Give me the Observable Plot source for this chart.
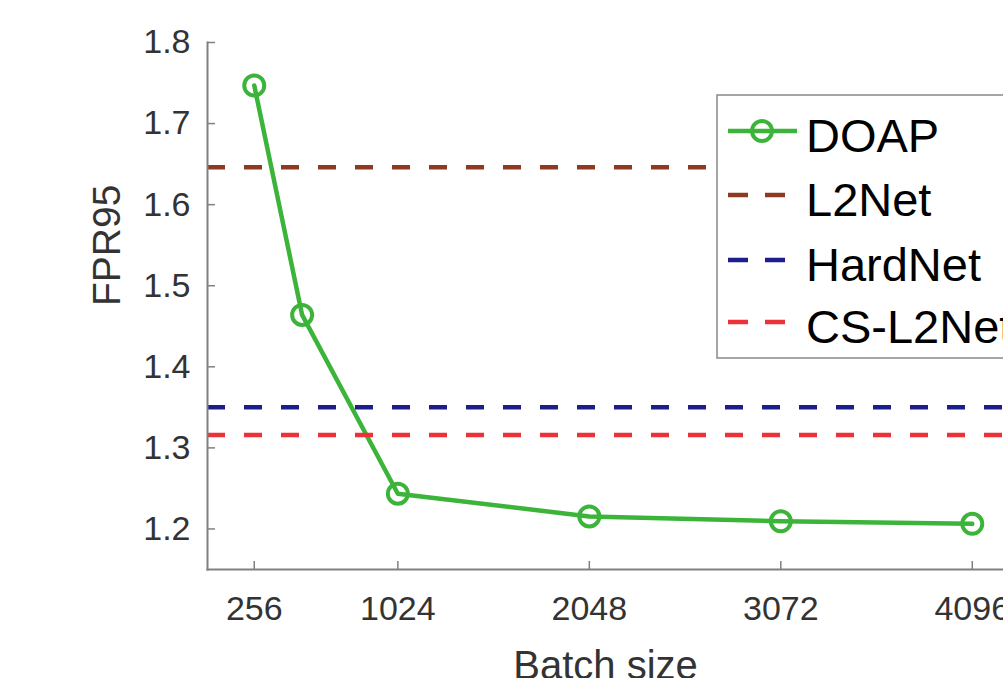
<!DOCTYPE html>
<html>
<head>
<meta charset="utf-8">
<script src="https://cdn.jsdelivr.net/npm/d3@7"></script>
<script src="https://cdn.jsdelivr.net/npm/@observablehq/plot@0.6"></script>
<style>
  html, body { margin: 0; padding: 0; background: #fff; overflow: hidden; }
  #wrap { position: relative; width: 1003px; height: 678px; overflow: hidden; }
  #legend { position: absolute; left: 0; top: 0; pointer-events: none; }
</style>
</head>
<body>
<div id="wrap"></div>
<script>
// ---- data ----
const batchSizes = [256, 512, 1024, 2048, 3072, 4096];
const doapFPR = [1.747, 1.464, 1.2435, 1.2155, 1.2095, 1.2063];
const baselineNames = ["L2Net", "HardNet", "CS-L2Net"];
const baselineFPR = [1.646, 1.350, 1.316];
const xTicks = [256, 1024, 2048, 3072, 4096];
const yTicks = [1.2, 1.3, 1.4, 1.5, 1.6, 1.7, 1.8];
const seriesNames = ["DOAP", "L2Net", "HardNet", "CS-L2Net"];
const seriesColors = ["#3cb43a", "#8e3a22", "#1d1d8c", "#ec3238"];

const doap = batchSizes.map((b, i) => ({batch: b, fpr: doapFPR[i]}));
const baselines = baselineNames.map((n, i) => ({name: n, fpr: baselineFPR[i], color: seriesColors[i + 1]}));

const font = "'Liberation Sans', Arial, Helvetica, sans-serif";
const axisGray = "#808080";

const chart = Plot.plot({
  width: 1003,
  height: 678,
  marginLeft: 207,
  marginRight: 0,
  marginTop: 42,
  marginBottom: 109,
  style: {fontFamily: font, background: "#fff"},
  x: {domain: [6, 4263]},
  y: {domain: [1.15, 1.8]},
  marks: [
    Plot.line(doap, {x: "batch", y: "fpr", stroke: seriesColors[0], strokeWidth: 4.5, strokeLinejoin: "round"}),
    Plot.dot(doap, {x: "batch", y: "fpr", r: 10, stroke: seriesColors[0], strokeWidth: 4, fill: "none"}),
    Plot.ruleY(baselines, {y: "fpr", stroke: "color", strokeWidth: 4.5, strokeDasharray: "18,19"}),
    Plot.frame({anchor: "left", stroke: axisGray, strokeWidth: 2}),
    Plot.frame({anchor: "bottom", stroke: axisGray, strokeWidth: 2}),
    Plot.axisY(yTicks, {tickSize: -8, tickFormat: () => "", stroke: axisGray, strokeWidth: 1.5, label: null}),
    Plot.axisY(yTicks, {tickSize: 0, tickPadding: 17, tickFormat: d => d.toFixed(1), fontSize: 34, fill: "#333", label: null}),
    Plot.axisX(xTicks, {tickSize: -8, tickFormat: () => "", stroke: axisGray, strokeWidth: 1.5, label: null}),
    Plot.axisX(xTicks, {tickSize: 0, tickPadding: 26, tickFormat: d => String(d), fontSize: 34, fill: "#333", label: null}),
    Plot.text(["FPR95"], {frameAnchor: "left", dx: -100, rotate: -90, fontSize: 39, fill: "#333"}),
    Plot.text(["Batch size"], {frameAnchor: "bottom", lineAnchor: "top", dy: 81, fontSize: 40, fill: "#333"})
  ]
});

const wrap = document.getElementById("wrap");
wrap.appendChild(chart);

// ---- legend overlay ----
const leg = d3.select(wrap).append("svg")
  .attr("id", "legend")
  .attr("width", 1003)
  .attr("height", 678);

leg.append("rect")
  .attr("x", 717).attr("y", 95)
  .attr("width", 400).attr("height", 263)
  .attr("fill", "#fff")
  .attr("stroke", "#888")
  .attr("stroke-width", 1.5);

const rowY = [131, 195, 260, 322];
seriesNames.forEach((name, i) => {
  const g = leg.append("g").attr("transform", `translate(0,${rowY[i]})`);
  const line = g.append("line")
    .attr("x1", 728).attr("x2", 797)
    .attr("y1", 0).attr("y2", 0)
    .attr("stroke", seriesColors[i])
    .attr("stroke-width", 4.5);
  if (i === 0) {
    g.append("circle").attr("cx", 762).attr("cy", 0).attr("r", 10)
      .attr("fill", "none").attr("stroke", seriesColors[i]).attr("stroke-width", 4);
  } else {
    line.attr("stroke-dasharray", "20,17");
  }
  g.append("text")
    .attr("x", 806).attr("y", 21)
    .attr("font-family", font)
    .attr("font-size", 47)
    .attr("fill", "#000")
    .text(name);
});
</script>
</body>
</html>
